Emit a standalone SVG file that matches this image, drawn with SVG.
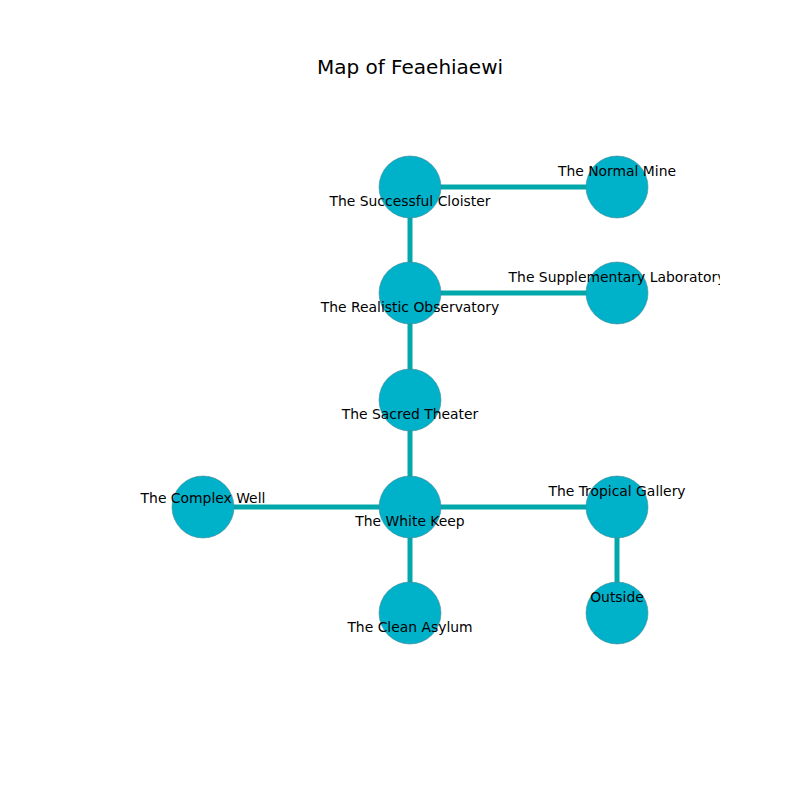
<svg xmlns="http://www.w3.org/2000/svg" width="800" height="800" viewBox="0 0 800 800">
<style>
.edge{stroke:#00a8ac;stroke-width:5;fill:none}
.node circle{fill:#00b1ca;stroke:#4a8a95;stroke-width:0.6}
.lbl{font-family:"DejaVu Sans",sans-serif;font-size:13.9px;fill:#000;text-anchor:middle;dominant-baseline:central}
.title{font-family:"DejaVu Sans",sans-serif;font-size:20px;fill:#000;text-anchor:middle;dominant-baseline:central}
</style>
<defs><clipPath id="ax"><rect x="80" y="96" width="640" height="608"/></clipPath></defs>
<rect width="800" height="800" fill="#fff"/>
<text class="title" x="410" y="67">Map of Feaehiaewi</text>
<g id="connectors">
<line class="edge" x1="410" y1="187" x2="617" y2="187"/>
<line class="edge" x1="410" y1="187" x2="410" y2="293"/>
<line class="edge" x1="410" y1="293" x2="617" y2="293"/>
<line class="edge" x1="410" y1="293" x2="410" y2="400"/>
<line class="edge" x1="410" y1="400" x2="410" y2="507"/>
<line class="edge" x1="203" y1="507" x2="617" y2="507"/>
<line class="edge" x1="410" y1="507" x2="410" y2="613"/>
<line class="edge" x1="617" y1="507" x2="617" y2="613"/>
</g>
<g id="n-cloister" class="node"><circle cx="410" cy="187" r="31"/></g>
<g id="n-mine" class="node"><circle cx="617" cy="187" r="31"/></g>
<g id="n-observatory" class="node"><circle cx="410" cy="293" r="31"/></g>
<g id="n-laboratory" class="node"><circle cx="617" cy="293" r="31"/></g>
<g id="n-theater" class="node"><circle cx="410" cy="400" r="31"/></g>
<g id="n-keep" class="node"><circle cx="410" cy="507" r="31"/></g>
<g id="n-well" class="node"><circle cx="203" cy="507" r="31"/></g>
<g id="n-gallery" class="node"><circle cx="617" cy="507" r="31"/></g>
<g id="n-asylum" class="node"><circle cx="410" cy="613" r="31"/></g>
<g id="n-outside" class="node"><circle cx="617" cy="613" r="31"/></g>
<g id="labels" clip-path="url(#ax)">
<text class="lbl" x="410" y="201">The Successful Cloister</text>
<text class="lbl" x="617" y="171">The Normal Mine</text>
<text class="lbl" x="410" y="307">The Realistic Observatory</text>
<text class="lbl" x="617" y="277">The Supplementary Laboratory</text>
<text class="lbl" x="410" y="414">The Sacred Theater</text>
<text class="lbl" x="410" y="521">The White Keep</text>
<text class="lbl" x="203" y="498">The Complex Well</text>
<text class="lbl" x="617" y="491">The Tropical Gallery</text>
<text class="lbl" x="410" y="627">The Clean Asylum</text>
<text class="lbl" x="617" y="597">Outside</text>
</g>
</svg>
